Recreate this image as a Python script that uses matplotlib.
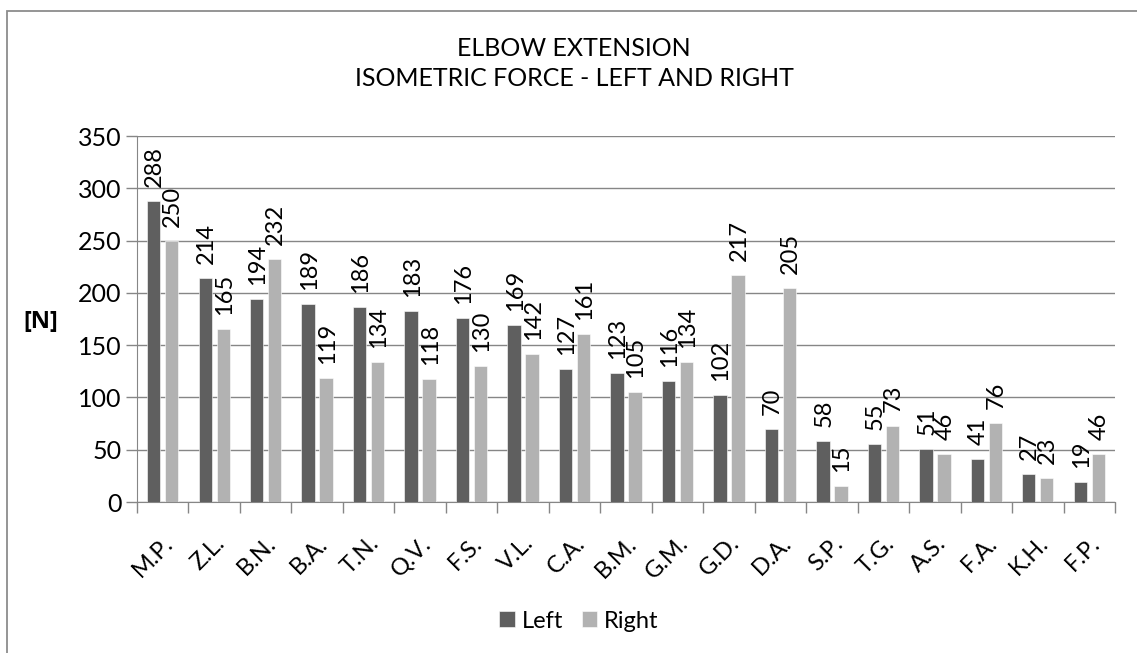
import matplotlib
matplotlib.use("Agg")
import matplotlib.pyplot as plt
from matplotlib.patches import Rectangle
import numpy as np

plt.rcParams['font.family'] = ['Lato', 'DejaVu Sans']

names = ["M.P.", "Z.L.", "B.N.", "B.A.", "T.N.", "Q.V.", "F.S.", "V.L.", "C.A.",
         "B.M.", "G.M.", "G.D.", "D.A.", "S.P.", "T.G.", "A.S.", "F.A.", "K.H.", "F.P."]
left_force = [288, 214, 194, 189, 186, 183, 176, 169, 127, 123, 116, 102, 70, 58, 55, 51, 41, 27, 19]
right_force = [250, 165, 232, 119, 134, 118, 130, 142, 161, 105, 134, 217, 205, 15, 73, 46, 76, 23, 46]
y_ticks = [0, 50, 100, 150, 200, 250, 300, 350]

dark = "#5f5f5f"
light = "#b2b2b2"
grid_c = "#868686"

fig = plt.figure(figsize=(11.37, 6.53), dpi=100)
W, H = 1137, 653

# outer chart frame
fig.patches.append(Rectangle((7 / W, -0.1), 1.2, (H - 11) / H + 0.1,
                             transform=fig.transFigure, fill=False,
                             edgecolor="#8c8c8c", linewidth=1.3))

ax = fig.add_axes([137 / W, (H - 502) / H, (1115 - 137) / W, (502 - 136) / H])

x = np.arange(len(names))
bw = 0.26
off = 0.175
b1 = ax.bar(x - off, left_force, bw, color=dark, edgecolor="white", linewidth=0.4, label="Left", zorder=3)
b2 = ax.bar(x + off, right_force, bw, color=light, edgecolor="white", linewidth=0.4, label="Right", zorder=3)

for bars, vals in ((b1, left_force), (b2, right_force)):
    for rect, v in zip(bars, vals):
        ax.annotate(str(v), (rect.get_x() + rect.get_width() / 2, v),
                    xytext=(1, 14), textcoords="offset pixels",
                    rotation=90, ha="center", va="bottom", fontsize=17, color="black")

ax.set_xlim(-0.5, len(names) - 0.5)
ax.set_ylim(0, 350)
ax.set_yticks(y_ticks)
ax.yaxis.grid(True, color=grid_c, linewidth=1.0, zorder=0)
ax.set_axisbelow(True)

ax.set_xticks(x)
ax.set_xticklabels(names, rotation=45, ha="right", rotation_mode="anchor", fontsize=17)
ax.set_xticks(np.arange(-0.5, len(names)), minor=True)
ax.tick_params(axis="x", which="major", length=0, pad=22)
ax.tick_params(axis="x", which="minor", length=8, color=grid_c, width=1.0)
ax.tick_params(axis="y", length=8, color=grid_c, width=1.0, labelsize=18, pad=3)

for s in ("top", "right"):
    ax.spines[s].set_visible(False)
ax.spines["left"].set_color(grid_c)
ax.spines["bottom"].set_color(grid_c)

fig.text(41 / W, (H - 322) / H, "[N]", ha="center", va="center", fontsize=17,
         fontweight="bold", family=["Open Sans", "DejaVu Sans"])

cx = 574 / W
fig.text(cx, (H - 48) / H, "ELBOW EXTENSION", ha="center", va="center", fontsize=18)
fig.text(cx, (H - 79) / H, "ISOMETRIC FORCE - LEFT AND RIGHT", ha="center", va="center", fontsize=18)

fig.legend(handles=[b1, b2], labels=["Left", "Right"], loc="center",
           bbox_to_anchor=(579 / W, (H - 621) / H), ncol=2, frameon=False,
           fontsize=17, handlelength=0.65, handleheight=0.65, handletextpad=0.3, columnspacing=0.8)

fig.savefig("out.png", dpi=100)
